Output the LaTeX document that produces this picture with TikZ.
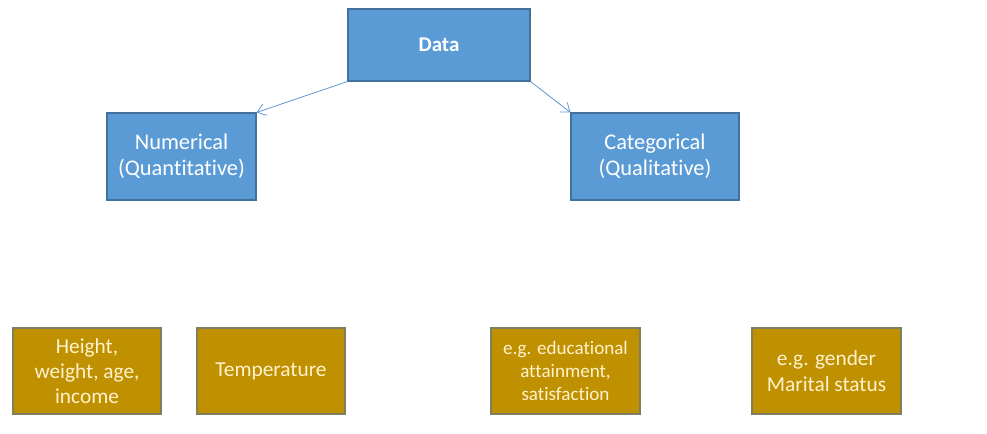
\documentclass[tikz,border=0pt]{standalone}
\usepackage{fontspec}
\setmainfont{Carlito}[Ligatures=NoCommon]
\usetikzlibrary{arrows.meta}
\definecolor{bluefill}{HTML}{5B9BD5}
\definecolor{blueedge}{HTML}{41719C}
\definecolor{goldfill}{HTML}{BF9000}
\definecolor{goldedge}{HTML}{7F7F5F}
\definecolor{goldtext}{HTML}{FFF2CC}
\begin{document}
\begin{tikzpicture}[x=0.75pt,y=-0.75pt,
  bluebox/.style={draw=blueedge,line width=0.8pt,fill=bluefill,text=white,align=center,font=\fontsize{16.8}{19.5}\selectfont},
  goldbox/.style={draw=goldedge,line width=0.8pt,fill=goldfill,text=goldtext,align=center,font=\fontsize{16}{18.5}\selectfont},
  conn/.style={draw=bluefill,line width=0.6pt,-{Straight Barb[length=6pt,width=9pt]}}]
\useasboundingbox (0,0) rectangle (987,433);
\path[fill=white] (0,0) rectangle (987,433);
\node[bluebox,minimum width=182*0.75pt,minimum height=72*0.75pt,font=\fontsize{15.7}{19}\selectfont\bfseries] (data) at (439,45) {Data};
\node[bluebox,minimum width=149*0.75pt,minimum height=87*0.75pt] (num) at (181.5,156.5) {Numerical\\(Quantitative)};
\node[bluebox,minimum width=168*0.75pt,minimum height=87*0.75pt] (cat) at (655,156.5) {Categorical\\(Qualitative)};
\node[goldbox,minimum width=148*0.75pt,minimum height=86*0.75pt] (hw) at (87,371) {Height,\\weight, age,\\income};
\node[goldbox,minimum width=148*0.75pt,minimum height=86*0.75pt] (temp) at (271,371) {Temperature};
\node[goldbox,minimum width=149*0.75pt,minimum height=86*0.75pt,font=\fontsize{14.3}{17.2}\selectfont] (edu) at (565.5,371) {e.g. educational\\attainment,\\satisfaction};
\node[goldbox,minimum width=149*0.75pt,minimum height=86*0.75pt,font=\fontsize{16}{19}\selectfont] (gen) at (826.5,371) {e.g. gender\\Marital status};
\draw[conn] (data.south west) -- (num.north east);
\draw[conn] (data.south east) -- (cat.north west);
\end{tikzpicture}
\end{document}
